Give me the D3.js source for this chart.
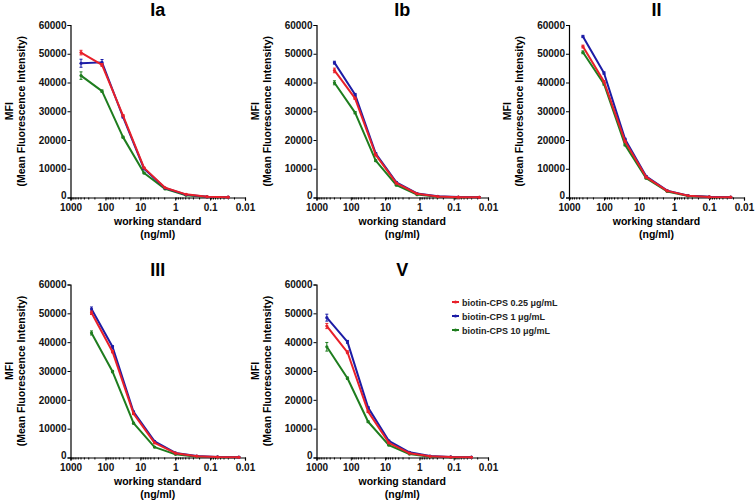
<!DOCTYPE html>
<html>
<head>
<meta charset="utf-8">
<script src="https://cdn.jsdelivr.net/npm/d3@7"></script>
<style>
  body { margin: 0; background: #fff; }
  svg { display: block; font-family: "Liberation Sans", Arial, sans-serif; }
</style>
</head>
<body>
<svg id="chart" width="756" height="500"></svg>
<script>
// series names (legend order) and colours
var seriesNames = ["biotin-CPS 0.25 \u03bcg/mL", "biotin-CPS 1 \u03bcg/mL", "biotin-CPS 10 \u03bcg/mL"];
var seriesColors = ["#e8202a", "#1c1ca6", "#1e7d1e"];

var panelNames = ["Ia", "Ib", "II", "III", "V"];
var xTicks = [1000, 100, 10, 1, 0.1, 0.01];
var xTickLabels = ["1000", "100", "10", "1", "0.1", "0.01"];
var yTicks = [0, 10000, 20000, 30000, 40000, 50000, 60000];

// working standard concentrations (ng/ml), per panel
var concIa  = [500, 125, 31.25, 7.81, 1.95, 0.49, 0.122, 0.0305];
var concIb  = [300, 75, 18.75, 4.69, 1.17, 0.29, 0.073, 0.018];
var concII  = [400, 100, 25, 6.25, 1.56, 0.39, 0.098, 0.024];
var concIII = [250, 62.5, 15.6, 3.9, 0.98, 0.24, 0.061, 0.015];
var concV   = [500, 125, 31.25, 7.81, 1.95, 0.49, 0.122, 0.0305];

// MFI per series: [0.25, 1, 10 ug/mL]
var mfiIa = [
  [50400, 46100, 28500, 10300, 3400, 1100, 300, 100],
  [46700, 47000, 28000, 10000, 3300, 1000, 250, 100],
  [42400, 37000, 21000, 8500, 3000, 800, 200, 80]
];
var mfiIb = [
  [44200, 34500, 14800, 5000, 1300, 350, 120, 60],
  [46900, 35800, 15300, 5300, 1400, 400, 150, 80],
  [39900, 29500, 12800, 4300, 1000, 250, 80, 50]
];
var mfiII = [
  [52500, 40300, 19500, 7100, 2300, 600, 200, 100],
  [56000, 43300, 20300, 7400, 2400, 650, 250, 100],
  [50500, 39500, 18300, 6700, 2100, 500, 150, 80]
];
var mfiIII = [
  [50200, 36700, 15200, 5100, 1500, 450, 150, 80],
  [51500, 38400, 15800, 5600, 1600, 500, 200, 100],
  [43200, 29800, 11900, 3600, 1100, 300, 100, 50]
];
var mfiV = [
  [45600, 36500, 15900, 5100, 1500, 400, 150, 80],
  [48500, 40100, 17300, 5800, 1800, 500, 200, 100],
  [38400, 27500, 12400, 4300, 1200, 300, 100, 50]
];

// error bars (SD)
var errIa = [
  [800, 500, 300, 200, 100, 50, 50, 50],
  [1400, 1000, 300, 200, 100, 50, 50, 50],
  [1300, 400, 300, 200, 100, 50, 50, 50]
];
var errIb = [
  [800, 400, 300, 200, 100, 50, 50, 50],
  [500, 400, 300, 200, 100, 50, 50, 50],
  [700, 400, 300, 200, 100, 50, 50, 50]
];
var errII = [
  [500, 400, 300, 200, 100, 50, 50, 50],
  [400, 400, 300, 200, 100, 50, 50, 50],
  [500, 400, 300, 200, 100, 50, 50, 50]
];
var errIII = [
  [600, 400, 300, 200, 100, 50, 50, 50],
  [700, 400, 300, 200, 100, 50, 50, 50],
  [700, 400, 300, 200, 100, 50, 50, 50]
];
var errV = [
  [900, 500, 300, 200, 100, 50, 50, 50],
  [1200, 500, 300, 200, 100, 50, 50, 50],
  [1500, 400, 300, 200, 100, 50, 50, 50]
];

var panelConc = [concIa, concIb, concII, concIII, concV];
var panelMfi  = [mfiIa, mfiIb, mfiII, mfiIII, mfiV];
var panelErr  = [errIa, errIb, errII, errIII, errV];

// plot frames (pixel boxes of each panel's axes)
var frames = [
  {x0: 70.5, x1: 245, y0: 25, y1: 197.5},
  {x0: 316.5, x1: 488, y0: 25, y1: 197.5},
  {x0: 569, x1: 744, y0: 25, y1: 197.5},
  {x0: 70.5, x1: 245, y0: 284.5, y1: 457.5},
  {x0: 316.5, x1: 488, y0: 284.5, y1: 457.5}
];

var svg = d3.select("#chart");

panelNames.forEach(function (name, p) {
  var f = frames[p];
  var g = svg.append("g");

  var x = d3.scaleLog().domain([1000, 0.01]).range([f.x0, f.x1]);
  var y = d3.scaleLinear().domain([0, 60000]).range([f.y1, f.y0]);

  // title
  g.append("text")
    .attr("x", (f.x0 + f.x1) / 2)
    .attr("y", f.y0 - 9)
    .attr("text-anchor", "middle")
    .style("font-size", "18px")
    .style("font-weight", "bold")
    .text(name);

  // y axis
  var yAxis = g.append("g")
    .attr("transform", "translate(" + f.x0 + ",0)")
    .call(d3.axisLeft(y).tickValues(yTicks).tickFormat(d3.format("d")).tickSizeOuter(0).tickSize(3).tickPadding(1));
  yAxis.selectAll("text").style("font-size", "10px").style("font-weight", "bold").attr("fill", "#111");
  // lift the "0" a touch so it sits clear of the "1000" below it
  yAxis.selectAll(".tick text").filter(function (d) { return d === 0; }).attr("dy", "0.1em");

  // x axis (major)
  var xAxis = g.append("g")
    .attr("transform", "translate(0," + f.y1 + ")")
    .call(d3.axisBottom(x).tickValues(xTicks).tickFormat(function (d, i) { return xTickLabels[i]; })
      .tickSizeOuter(0).tickSize(3).tickPadding(3));
  xAxis.selectAll("text").style("font-size", "10px").style("font-weight", "bold").attr("fill", "#111");

  // minor ticks
  var minor = [];
  [100, 10, 1, 0.1, 0.01].forEach(function (dec) {
    for (var k = 2; k <= 9; k++) minor.push(dec * k);
  });
  g.selectAll("line.minor").data(minor).enter().append("line")
    .attr("x1", function (d) { return x(d); })
    .attr("x2", function (d) { return x(d); })
    .attr("y1", f.y1)
    .attr("y2", f.y1 + 2)
    .attr("stroke", "#000")
    .attr("stroke-width", 1);

  g.selectAll(".domain").attr("stroke", "#000").attr("stroke-width", 1.2);
  g.selectAll(".tick line").attr("stroke", "#000");

  // axis titles
  var cy = (f.y0 + f.y1) / 2;
  g.append("text")
    .attr("transform", "translate(" + (f.x0 - 58) + "," + cy + ") rotate(-90)")
    .attr("text-anchor", "middle")
    .style("font-size", "10.5px").style("font-weight", "bold")
    .text("MFI");
  g.append("text")
    .attr("transform", "translate(" + (f.x0 - 46) + "," + cy + ") rotate(-90)")
    .attr("text-anchor", "middle")
    .style("font-size", "10.5px").style("font-weight", "bold")
    .text("(Mean Fluorescence Intensity)");

  var cx = (f.x0 + f.x1) / 2;
  g.append("text")
    .attr("x", cx).attr("y", f.y1 + 27)
    .attr("text-anchor", "middle")
    .style("font-size", "10.5px").style("font-weight", "bold")
    .text("working standard");
  g.append("text")
    .attr("x", cx).attr("y", f.y1 + 40)
    .attr("text-anchor", "middle")
    .style("font-size", "10.5px").style("font-weight", "bold")
    .text("(ng/ml)");

  // series: draw green, blue, red so red lies on top
  var conc = panelConc[p];
  var line = d3.line()
    .x(function (d) { return x(d.c); })
    .y(function (d) { return y(d.v); });

  [2, 1, 0].forEach(function (s) {
    var pts = conc.map(function (c, i) {
      return {c: c, v: panelMfi[p][s][i], e: panelErr[p][s][i]};
    });
    var col = seriesColors[s];
    g.append("path")
      .datum(pts)
      .attr("fill", "none")
      .attr("stroke", col)
      .attr("stroke-width", 2)
      .attr("stroke-linejoin", "round")
      .attr("d", line);

    var eb = g.selectAll(null).data(pts).enter().append("g");
    eb.append("line")
      .attr("x1", function (d) { return x(d.c); })
      .attr("x2", function (d) { return x(d.c); })
      .attr("y1", function (d) { return y(d.v - d.e); })
      .attr("y2", function (d) { return y(d.v + d.e); })
      .attr("stroke", col).attr("stroke-width", 1);
    eb.append("line")
      .attr("x1", function (d) { return x(d.c) - 1.5; })
      .attr("x2", function (d) { return x(d.c) + 1.5; })
      .attr("y1", function (d) { return y(d.v + d.e); })
      .attr("y2", function (d) { return y(d.v + d.e); })
      .attr("stroke", col).attr("stroke-width", 1);
    eb.append("line")
      .attr("x1", function (d) { return x(d.c) - 1.5; })
      .attr("x2", function (d) { return x(d.c) + 1.5; })
      .attr("y1", function (d) { return y(d.v - d.e); })
      .attr("y2", function (d) { return y(d.v - d.e); })
      .attr("stroke", col).attr("stroke-width", 1);
    eb.append("circle")
      .attr("cx", function (d) { return x(d.c); })
      .attr("cy", function (d) { return y(d.v); })
      .attr("r", 1.6)
      .attr("fill", col);
  });
});

// legend beside panel V
var legend = svg.append("g").attr("transform", "translate(452,302)");
seriesNames.forEach(function (name, i) {
  var row = legend.append("g").attr("transform", "translate(0," + (i * 14) + ")");
  row.append("line")
    .attr("x1", 0).attr("x2", 7).attr("y1", 0).attr("y2", 0)
    .attr("stroke", seriesColors[i]).attr("stroke-width", 2);
  row.append("circle").attr("cx", 3.5).attr("cy", 0).attr("r", 1.6).attr("fill", seriesColors[i]);
  row.append("text")
    .attr("x", 10).attr("y", 3.5)
    .style("font-size", "9px").style("font-weight", "bold")
    .attr("fill", "#222")
    .text(name);
});
</script>
</body>
</html>
